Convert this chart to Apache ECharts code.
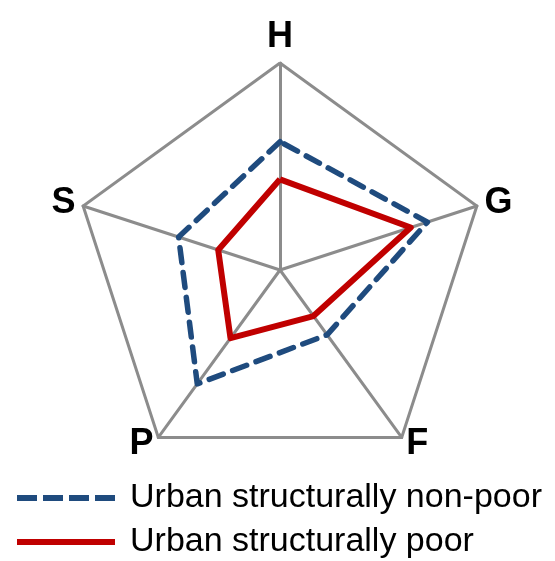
<!DOCTYPE html>
<html>
<head>
<meta charset="utf-8">
<script src="https://cdn.jsdelivr.net/npm/echarts@6/dist/echarts.min.js"></script>
<style>
html,body{margin:0;padding:0;background:#fff;}
#chart{width:555px;height:561px;}
</style>
</head>
<body>
<div id="chart"></div>
<script>
var axes = ['H', 'S', 'P', 'F', 'G'];
var seriesNames = ['Urban structurally non-poor', 'Urban structurally poor'];
var nonPoor = [0.62, 0.515, 0.68, 0.387, 0.749];
var poor = [0.438, 0.314, 0.407, 0.275, 0.664];
var axisMax = 1;

var chart = echarts.init(document.getElementById('chart'), null, {renderer: 'canvas'});
var dashIcon = 'path://M0,0h20v6h-20z M26,0h20v6h-20z M52,0h20v6h-20z M78,0h20v6h-20z';
var solidIcon = 'path://M0,0h98v6h-98z';
chart.setOption({
  animation: false,
  backgroundColor: '#fff',
  legend: {
    orient: 'vertical',
    left: 17,
    top: 481,
    padding: 0,
    itemWidth: 98,
    itemHeight: 6,
    itemGap: 10,
    data: [
      {name: seriesNames[0], icon: dashIcon},
      {name: seriesNames[1], icon: solidIcon}
    ],
    textStyle: {
      fontFamily: 'Liberation Sans, Arial, sans-serif',
      fontSize: 34,
      color: '#000',
      lineHeight: 34,
      padding: [0, 0, 0, 10]
    }
  },
  radar: {
    center: [280, 270],
    radius: 207,
    startAngle: 90,
    splitNumber: 1,
    shape: 'polygon',
    indicator: axes.map(function (n) { return {name: n, max: axisMax, min: 0}; }),
    axisName: {
      color: '#000',
      fontFamily: 'Liberation Sans, Arial, sans-serif',
      fontWeight: 'bold',
      fontSize: 36
    },
    nameGap: 8,
    splitArea: {show: false},
    splitLine: {lineStyle: {color: '#8c8c8c', width: 3}},
    axisLine: {lineStyle: {color: '#8c8c8c', width: 3}},
    axisTick: {show: false},
    axisLabel: {show: false}
  },
  series: [{
    type: 'radar',
    symbol: 'none',
    data: [
      {
        name: seriesNames[0],
        value: nonPoor,
        itemStyle: {color: '#1f4b7e'},
        lineStyle: {color: '#1f4b7e', width: 5.5, type: [15, 10], cap: 'round'}
      },
      {
        name: seriesNames[1],
        value: poor,
        itemStyle: {color: '#c00000'},
        lineStyle: {color: '#c00000', width: 6, type: 'solid'}
      }
    ]
  }]
});
</script>
</body>
</html>
